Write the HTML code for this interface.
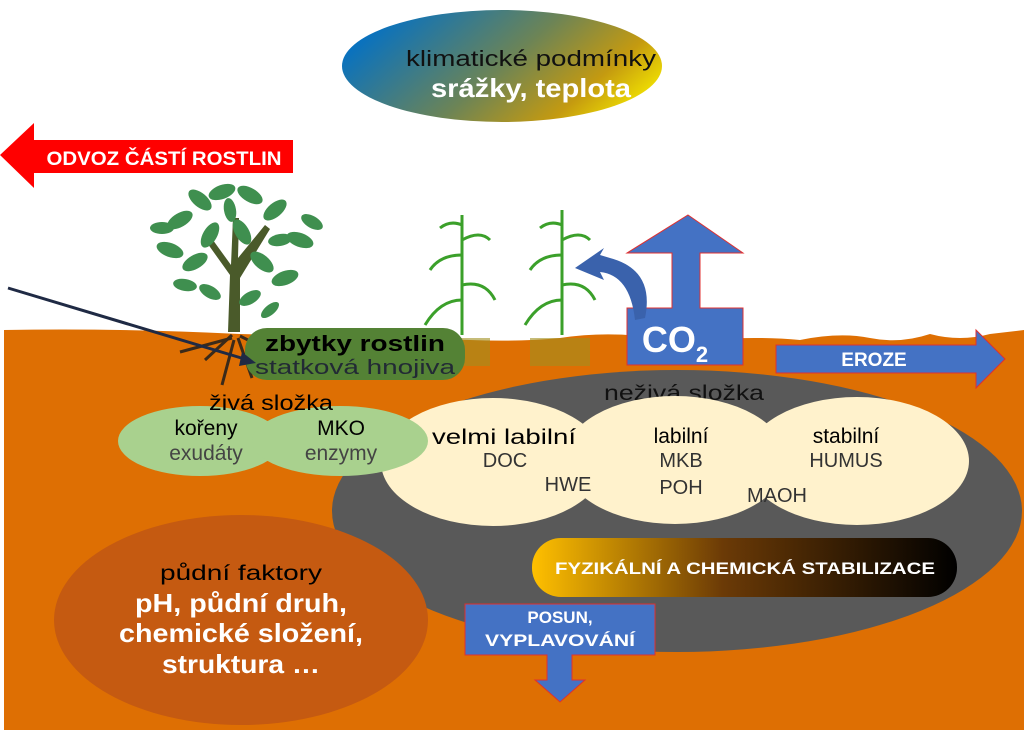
<!DOCTYPE html>
<html><head><meta charset="utf-8"><style>
html,body{margin:0;padding:0;background:#fff}
svg{display:block}
text{font-family:"Liberation Sans",sans-serif}
</style></head><body>
<svg width="1024" height="732" viewBox="0 0 1024 732" xmlns="http://www.w3.org/2000/svg">
<defs>
<linearGradient id="clim" x1="0" y1="0.3" x2="1" y2="0.7">
<stop offset="0" stop-color="#0070C8"/><stop offset="0.5" stop-color="#6C8456"/><stop offset="0.8" stop-color="#C49A10"/><stop offset="1" stop-color="#F4E600"/></linearGradient>
<linearGradient id="stab" x1="0" y1="0" x2="1" y2="0">
<stop offset="0" stop-color="#FFC000"/><stop offset="0.45" stop-color="#6B3A06"/><stop offset="1" stop-color="#000"/></linearGradient>
</defs>
<path d="M4 330 Q120 328 240 334 L470 340 Q520 342 560 338 Q600 332 640 336 L700 340 Q760 336 800 340 Q840 332 870 338 Q900 344 930 334 Q960 342 990 334 L1024 330 L1024 730 L4 730 Z" fill="#DE6F03"/>
<ellipse cx="502" cy="66" rx="160" ry="56" fill="url(#clim)"/>
<text x="531" y="66" font-size="22" text-anchor="middle" fill="#111" textLength="250" lengthAdjust="spacingAndGlyphs">klimatické podmínky</text>
<text x="531" y="97" font-size="26" font-weight="bold" text-anchor="middle" fill="#fff" textLength="200" lengthAdjust="spacingAndGlyphs">srážky, teplota</text>
<path d="M0 155 L34 123 L34 140 L293 140 L293 173 L34 173 L34 188 Z" fill="#FF0000"/>
<text x="164" y="165" font-size="19" font-weight="bold" text-anchor="middle" fill="#fff" textLength="235" lengthAdjust="spacingAndGlyphs">ODVOZ ČÁSTÍ ROSTLIN</text>
<g>
<path d="M228 332 L230 275 L205 240 L210 236 L231 265 L233 218 L239 218 L238 258 L265 225 L270 229 L240 278 L240 332 Z" fill="#4a5a2a"/>
<g fill="#3F8F4F">
<ellipse cx="180" cy="220" rx="14" ry="7" transform="rotate(-30 180 220)"/>
<ellipse cx="200" cy="200" rx="14" ry="7" transform="rotate(40 200 200)"/>
<ellipse cx="222" cy="192" rx="14" ry="7" transform="rotate(-20 222 192)"/>
<ellipse cx="250" cy="195" rx="14" ry="7" transform="rotate(30 250 195)"/>
<ellipse cx="275" cy="210" rx="14" ry="7" transform="rotate(-40 275 210)"/>
<ellipse cx="300" cy="240" rx="14" ry="7" transform="rotate(20 300 240)"/>
<ellipse cx="170" cy="250" rx="14" ry="7" transform="rotate(20 170 250)"/>
<ellipse cx="195" cy="262" rx="14" ry="7" transform="rotate(-30 195 262)"/>
<ellipse cx="262" cy="262" rx="14" ry="7" transform="rotate(40 262 262)"/>
<ellipse cx="285" cy="278" rx="14" ry="7" transform="rotate(-20 285 278)"/>
<ellipse cx="242" cy="232" rx="14" ry="7" transform="rotate(60 242 232)"/>
<ellipse cx="210" cy="235" rx="14" ry="7" transform="rotate(-60 210 235)"/>
<ellipse cx="162" cy="228" rx="12" ry="6"/>
<ellipse cx="312" cy="222" rx="12" ry="6" transform="rotate(30 312 222)"/>
<ellipse cx="250" cy="298" rx="12" ry="6" transform="rotate(-30 250 298)"/>
<ellipse cx="210" cy="292" rx="12" ry="6" transform="rotate(30 210 292)"/>
<ellipse cx="230" cy="210" rx="12" ry="6" transform="rotate(80 230 210)"/>
<ellipse cx="280" cy="240" rx="12" ry="6" transform="rotate(-10 280 240)"/>
<ellipse cx="185" cy="285" rx="12" ry="6" transform="rotate(10 185 285)"/>
<ellipse cx="270" cy="310" rx="11" ry="5" transform="rotate(-40 270 310)"/>
</g>
<path d="M232 335 L205 360 M234 340 L222 385 M238 338 L252 378 M232 338 L180 352 M240 336 L272 352" stroke="#3a2a1a" stroke-width="3" fill="none"/>
</g>
<g stroke="#3BA02A" stroke-width="3" fill="none">
<path d="M462 335 L462 215"/><path d="M462 300 Q440 300 425 325 M462 285 Q485 280 495 300 M462 255 Q440 255 430 270 M462 240 Q480 230 490 240 M462 225 Q450 220 440 228"/>
<path d="M562 335 L562 210"/><path d="M562 300 Q540 300 525 325 M562 285 Q585 280 595 300 M562 255 Q540 255 530 270 M562 240 Q580 230 590 240 M562 225 Q550 220 540 228"/>
</g>
<rect x="440" y="338" width="50" height="28" fill="#A09020" opacity="0.6"/>
<rect x="530" y="338" width="60" height="28" fill="#A09020" opacity="0.6"/>
<rect x="245" y="328" width="220" height="52" rx="22" fill="#548235"/>
<text x="355" y="351" font-size="22" font-weight="bold" text-anchor="middle" fill="#000" textLength="180" lengthAdjust="spacingAndGlyphs">zbytky rostlin</text>
<text x="355" y="374" font-size="20" text-anchor="middle" fill="#222A35" textLength="200" lengthAdjust="spacingAndGlyphs">statková hnojiva</text>
<line x1="8" y1="288" x2="248" y2="360" stroke="#1F2A44" stroke-width="3"/>
<path d="M256 363 L242 352 L239 366 Z" fill="#1F2A44"/>
<path d="M688 215 L743 253 L700 253 L700 308 L743 308 L743 365 L627 365 L627 308 L672 308 L672 253 L627 253 Z" fill="#4472C4" stroke="#E03030" stroke-width="1"/>
<text x="675" y="352" font-size="36" font-weight="bold" fill="#fff" text-anchor="middle">CO<tspan font-size="22" dy="10">2</tspan></text>
<path d="M645 318 Q655 270 610 258 L600 255 L604 248 L575 268 L604 280 L600 272 Q630 275 635 320 Z" fill="#3A62AC"/>
<path d="M776 345 L976 345 L976 330 L1005 359 L976 388 L976 373 L776 373 Z" fill="#4472C4" stroke="#E03030" stroke-width="1"/>
<text x="874" y="366" font-size="19" font-weight="bold" fill="#fff" text-anchor="middle">EROZE</text>
<ellipse cx="677" cy="511" rx="345" ry="141" fill="#595959"/>
<text x="684" y="400" font-size="21" fill="#111" text-anchor="middle" textLength="160" lengthAdjust="spacingAndGlyphs">neživá složka</text>
<ellipse cx="493" cy="462" rx="112" ry="64" fill="#FFF2CC"/>
<ellipse cx="675" cy="460" rx="112" ry="64" fill="#FFF2CC"/>
<ellipse cx="857" cy="461" rx="112" ry="64" fill="#FFF2CC"/>
<text x="504" y="444" font-size="21" fill="#000" text-anchor="middle" textLength="144" lengthAdjust="spacingAndGlyphs">velmi labilní</text>
<text x="505" y="467" font-size="20" fill="#333" text-anchor="middle">DOC</text>
<text x="568" y="491" font-size="20" fill="#333" text-anchor="middle">HWE</text>
<text x="681" y="443" font-size="21" fill="#000" text-anchor="middle">labilní</text>
<text x="681" y="467" font-size="20" fill="#333" text-anchor="middle">MKB</text>
<text x="681" y="494" font-size="20" fill="#333" text-anchor="middle">POH</text>
<text x="777" y="502" font-size="20" fill="#333" text-anchor="middle">MAOH</text>
<text x="846" y="443" font-size="21" fill="#000" text-anchor="middle">stabilní</text>
<text x="846" y="467" font-size="20" fill="#333" text-anchor="middle">HUMUS</text>
<rect x="532" y="538" width="425" height="59" rx="29" fill="url(#stab)"/>
<text x="745" y="574" font-size="17" font-weight="bold" fill="#fff" text-anchor="middle" textLength="380" lengthAdjust="spacingAndGlyphs">FYZIKÁLNÍ A CHEMICKÁ STABILIZACE</text>
<path d="M465 604 L655 604 L655 655 L572 655 L572 680 L585 680 L560 702 L535 680 L547 680 L547 655 L465 655 Z" fill="#4472C4" stroke="#E03030" stroke-width="1"/>
<text x="560" y="623" font-size="17" font-weight="bold" fill="#fff" text-anchor="middle">POSUN,</text>
<text x="560" y="646" font-size="17" font-weight="bold" fill="#fff" text-anchor="middle" textLength="150" lengthAdjust="spacingAndGlyphs">VYPLAVOVÁNÍ</text>
<ellipse cx="200" cy="441" rx="82" ry="35" fill="#A9D18E"/>
<ellipse cx="340" cy="441" rx="88" ry="35" fill="#A9D18E"/>
<text x="271" y="410" font-size="21" fill="#000" text-anchor="middle" textLength="124" lengthAdjust="spacingAndGlyphs">živá složka</text>
<text x="206" y="435" font-size="21" fill="#000" text-anchor="middle">kořeny</text>
<text x="206" y="460" font-size="21" fill="#444" text-anchor="middle">exudáty</text>
<text x="341" y="435" font-size="21" fill="#000" text-anchor="middle">MKO</text>
<text x="341" y="460" font-size="21" fill="#444" text-anchor="middle">enzymy</text>
<ellipse cx="241" cy="620" rx="187" ry="105" fill="#C55A11"/>
<text x="241" y="580" font-size="21" fill="#000" text-anchor="middle" textLength="162" lengthAdjust="spacingAndGlyphs">půdní faktory</text>
<text x="241" y="612" font-size="26" font-weight="bold" fill="#fff" text-anchor="middle" textLength="212" lengthAdjust="spacingAndGlyphs">pH, půdní druh,</text>
<text x="241" y="642" font-size="26" font-weight="bold" fill="#fff" text-anchor="middle" textLength="244" lengthAdjust="spacingAndGlyphs">chemické složení,</text>
<text x="241" y="673" font-size="26" font-weight="bold" fill="#fff" text-anchor="middle" textLength="158" lengthAdjust="spacingAndGlyphs">struktura …</text>
</svg>
</body></html>
